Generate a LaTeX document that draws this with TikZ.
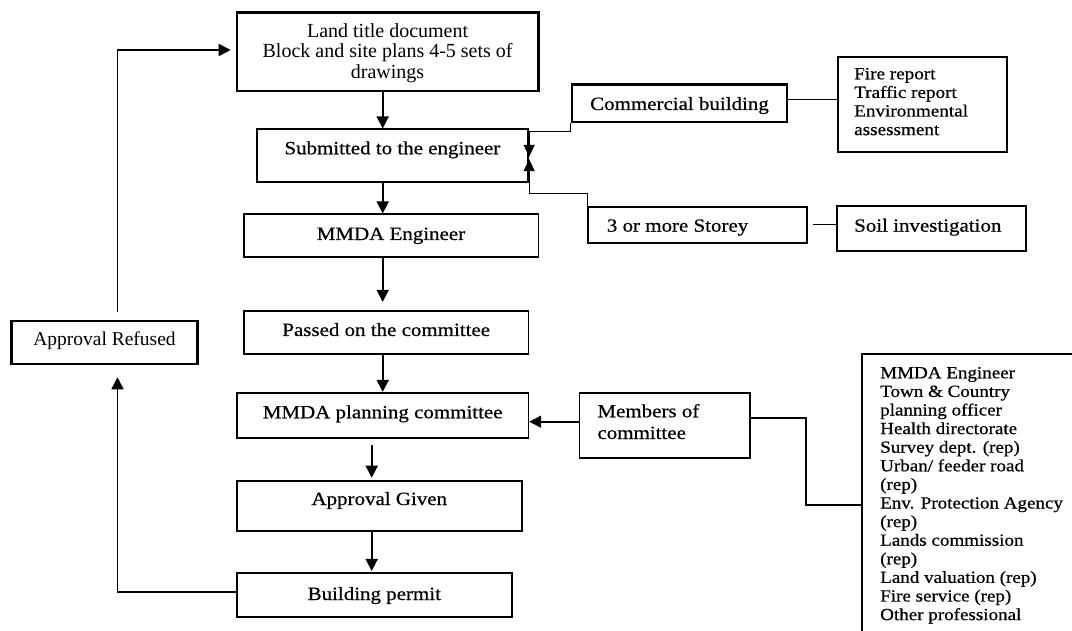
\documentclass[tikz,border=0pt]{standalone}
\usepackage{fontspec}
\setmainfont{Liberation Serif}
\newfontfamily\cam[FakeStretch=1.12,FakeBold=0.6]{Liberation Serif}
\usetikzlibrary{arrows.meta,calc}
\tikzset{
  box/.style={draw, rectangle, line width=1.7pt, inner sep=0pt},
  boxthick/.style={box, line width=2.5pt},
  txt/.style={inner sep=0pt, text=black},
  main/.style={txt, font=\cam\fontsize{18.7}{20}\selectfont},
  tms/.style={txt, font=\fontsize{19.5}{20.3}\selectfont},
  arr/.style={line width=1.8pt, -{Triangle[length=12pt,width=12pt]}},
  thinarr/.style={line width=1.2pt, -{Triangle[length=12pt,width=11pt]}},
  conn/.style={line width=1.6pt},
}
\begin{document}
\begin{tikzpicture}[x=1pt,y=-1pt]
\useasboundingbox (0,0) rectangle (1072,631);
% boxes
\node[boxthick, minimum width=301.3, minimum height=78.3] (top) at (387.6,51.85) {};
\node[box, minimum width=271, minimum height=52.4] (sub) at (392.8,155.5) {};
\node[box, minimum width=294.3, minimum height=42.4] (eng) at (391.2,235.5) {};
\node[box, minimum width=284.3, minimum height=43.3] (pass) at (386.2,332.4) {};
\node[box, minimum width=291.3, minimum height=45.3] (plan) at (382.7,415.4) {};
\node[box, minimum width=284.7, minimum height=49.7] (given) at (379.3,505.9) {};
\node[box, minimum width=274.7, minimum height=44] (permit) at (374.3,595.3) {};
\node[boxthick, minimum width=185.6, minimum height=43] (refused) at (104.5,342.5) {};
\node[boxthick, minimum width=215, minimum height=37.7] (comm) at (679.5,103.2) {};
\node[box, minimum width=169, minimum height=94.4] (fire) at (922.5,104.5) {};
\node[box, minimum width=219, minimum height=36] (storey) at (697.5,224.7) {};
\node[box, minimum width=189, minimum height=45] (soil) at (931.5,228.5) {};
\node[box, minimum width=170.7, minimum height=65.6] (members) at (664.7,425.5) {};
\begin{scope}
\clip (0,0) rectangle (1072,631);
\node[box, minimum width=223, minimum height=290.7] (big) at (973.5,499.7) {};
\end{scope}
% texts
\node[txt, anchor=base] (topT) at (387.6,37.7) {\parbox[t]{300pt}{\centering\fontsize{20}{20.3}\selectfont Land title document\\Block and site plans 4-5 sets of\\drawings}};
\node[main, anchor=base] (subT) at (392.4,154.3) {Submitted to the engineer};
\node[main, anchor=base] (engT) at (391,240) {MMDA Engineer};
\node[main, anchor=base] (passT) at (386.2,336) {Passed on the committee};
\node[main, anchor=base] (planT) at (382.7,418.3) {MMDA planning committee};
\node[main, anchor=base] (givenT) at (379.3,505) {Approval Given};
\node[main, anchor=base] (permitT) at (374.3,600) {Building permit};
\node[tms, anchor=base] (refusedT) at (104.5,345) {Approval Refused};
\node[main, anchor=base] (commT) at (679.5,110) {Commercial building};
\node[main, anchor=base west] (storeyT) at (606.7,231.7) {3 or more Storey};
\node[main, anchor=base west] (soilT) at (854,231.7) {Soil investigation};
\node[txt, anchor=base west] (fireT) at (854,79.3) {\parbox[t]{160pt}{\raggedright\cam\fontsize{17.1}{18.6}\selectfont Fire report\\Traffic report\\Environmental\\assessment}};
\node[txt, anchor=base west] (membersT) at (597.3,417.3) {\parbox[t]{160pt}{\raggedright\cam\fontsize{18.7}{21.7}\selectfont Members of\\committee}};
\node[txt, anchor=base west] (bigT) at (880,378.3) {\parbox[t]{200pt}{\raggedright\cam\fontsize{17}{18.6}\selectfont MMDA Engineer\\Town \& Country\\planning officer\\Health directorate\\Survey dept. (rep)\\Urban/ feeder road\\(rep)\\Env. Protection Agency\\(rep)\\Lands commission\\(rep)\\Land valuation (rep)\\Fire service (rep)\\Other professional}};
% helper coordinates
\coordinate (ax) at (382.7,0);
\coordinate (bx) at (371.7,0);
\coordinate (lx) at (117.5,0);
\coordinate (my) at (0,421.7);
\coordinate (mt) at (0,417.7);
\coordinate (mb) at (806,505);
\coordinate (cf) at (0,99.5);
\coordinate (ss) at (0,224.5);
% main chain
\draw[arr] (top.south -| ax) -- (sub.north -| ax);
\draw[arr] (sub.south -| ax) -- (eng.north -| ax);
\draw[arr] (eng.south -| ax) -- ($(pass.north -| ax)+(0,-8)$);
\draw[arr] (pass.south -| ax) -- (plan.north -| ax);
\draw[arr] ($(plan.south -| bx)+(0,6)$) -- ($(given.north -| bx)+(0,-2.5)$);
\draw[arr] (given.south -| bx) -- ($(permit.north -| bx)+(0,-1.5)$);
% side inputs
\draw[arr] (members.west |- my) -- (plan.east |- my);
\draw[conn] (members.east |- mt) -| (mb) -- (big.west |- mb);
\draw[conn] (comm.east |- cf) -- (fire.west |- cf);
\draw[conn] ($(storey.east |- ss)+(5,0)$) -- (soil.west |- ss);
\draw[thinarr] (comm.south west) |- ($(sub.north east)+(0,3.4)$) -- ($(sub.north east)+(0,28.4)$);
\draw[thinarr] (storey.north west) |- ($(sub.south east)+(0,11)$) -- ($(sub.south east)+(0,-23.4)$);
% refusal loop
\draw[arr] ($(permit.west)+(0,-3.6)$) -| ($(refused.south -| lx)+(0,12)$);
\draw[arr] ($(refused.north -| lx)+(0,-8)$) |- ($(top.west)+(-5,-1.85)$);
\end{tikzpicture}
\end{document}
